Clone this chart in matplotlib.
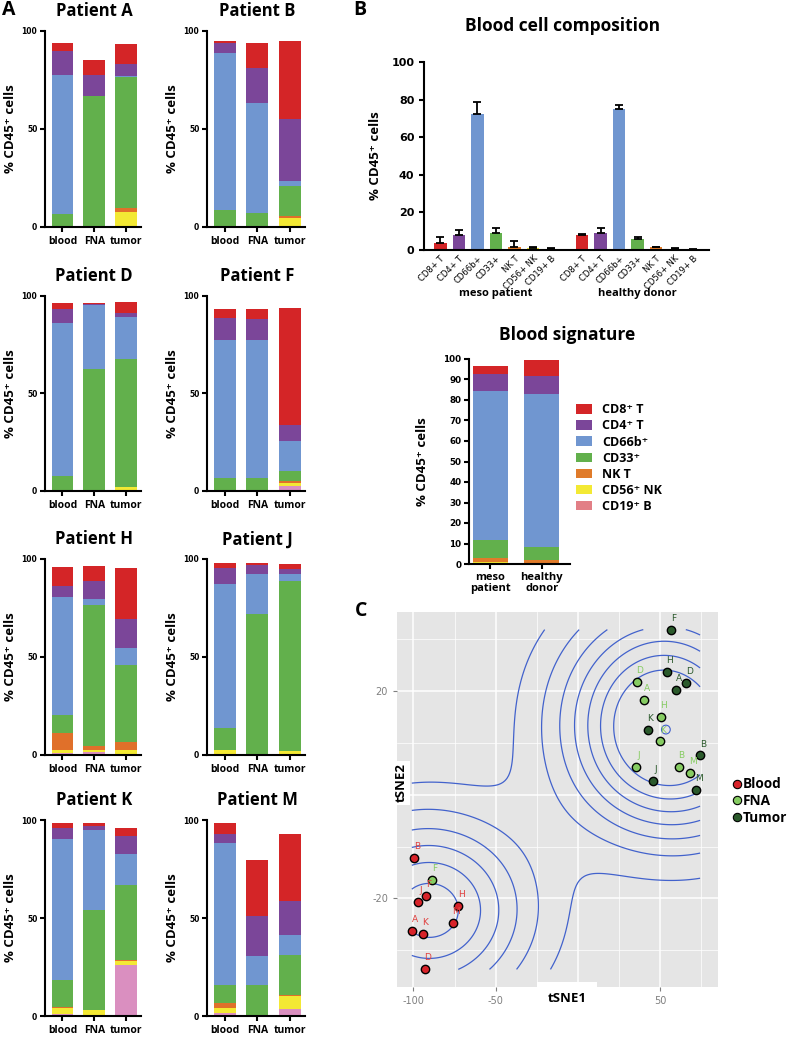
import numpy as np
import matplotlib
matplotlib.use('Agg')
import matplotlib.pyplot as plt
from matplotlib.patches import Patch
from matplotlib.lines import Line2D

# cell populations, stacked from the bottom up
cells = ['CD19⁺ B', 'CD56⁺ NK', 'NK T', 'CD33⁺', 'CD66b⁺', 'CD4⁺ T', 'CD8⁺ T']
cells_plain = ['CD19+ B', 'CD56+ NK', 'NK T', 'CD33+', 'CD66b+', 'CD4+ T', 'CD8+ T']
colors_A = ['#da8fc0', '#f3e934', '#e0702a', '#62b04c', '#7096d0', '#7b4699', '#d42527']
colors_B = ['#e27f86', '#f3e934', '#e07b2a', '#62b04c', '#7096d0', '#7b4699', '#d42527']
samples = ['blood', 'FNA', 'tumor']

# panel A: % of CD45+ cells, rows = blood, FNA, tumor; columns in the order of `cells`
patient_A = [[0, 0, 0, 6.8, 70.8, 12.0, 4.4], [0, 0, 0, 66.6, 0, 10.9, 7.7], [0.5, 7.0, 2.4, 66.7, 0.3, 6.5, 9.8]]
patient_B = [[0, 0, 0, 8.8, 80.0, 4.9, 1.0], [0, 0, 0, 7.1, 56.2, 17.7, 12.7], [0, 4.8, 0.6, 15.5, 2.4, 31.6, 40.0]]
patient_D = [[0, 0, 0, 7.5, 78.9, 6.8, 3.1], [0, 0, 0, 62.5, 33.1, 0.5, 0.5], [0, 1.9, 0.3, 65.3, 21.6, 2.4, 5.3]]
patient_F = [[0, 0, 0, 6.6, 70.7, 11.6, 4.6], [0, 0, 0, 6.8, 70.5, 11.1, 4.8], [2.4, 1.7, 0.8, 5.3, 15.5, 8.0, 60.2]]
patient_H = [[1.2, 1.2, 9.0, 8.9, 60.3, 5.6, 9.9], [1.5, 0.9, 2.0, 71.9, 3.3, 9.0, 8.0], [0.5, 2.2, 3.8, 39.2, 9.0, 14.5, 26.0]]
patient_J = [[0, 2.7, 0, 10.9, 73.5, 8.3, 2.7], [0, 0, 0, 72.1, 20.2, 4.5, 1.0], [0, 2.0, 0, 86.6, 3.9, 2.2, 2.9]]
patient_K = [[1.2, 2.7, 0.5, 14.2, 71.9, 5.4, 2.7], [0.7, 2.4, 0, 51.2, 40.6, 2.2, 1.2], [25.9, 2.4, 0.5, 38.0, 16.0, 9.0, 3.9]]
patient_M = [[1.4, 2.7, 2.5, 9.4, 72.4, 4.6, 5.5], [0, 0, 0, 16.0, 14.7, 20.2, 28.8], [3.6, 6.6, 0.7, 20.3, 10.2, 17.4, 34.0]]

# panel B: blood means (order of `cells`) and upper error
meso_mean = [0.3, 0.8, 1.6, 9.2, 72.6, 8.0, 3.9]
meso_err = [0.8, 1.0, 3.0, 2.7, 6.3, 2.8, 2.8]
healthy_mean = [0.2, 0.5, 1.4, 6.0, 74.8, 9.0, 7.8]
healthy_err = [0.3, 0.3, 0.2, 0.9, 2.2, 2.5, 0.7]

# panel C: tSNE coordinates
blood_x = [-99.6, -92.3, -97.4, -72.7, -75.8, -101.0, -94.4, -93.0]
blood_y = [-12.2, -19.5, -20.6, -21.4, -24.8, -26.3, -26.9, -33.7]
blood_lab = ['B', 'F', 'J', 'H', 'M', 'A', 'K', 'D']
fna_x = [35.8, 40.4, 50.3, 49.9, 35.2, 61.4, 68.1, -88.5]
fna_y = [21.8, 18.4, 15.1, 10.3, 5.3, 5.4, 4.3, -16.4]
fna_lab = ['D', 'A', 'H', 'K', 'J', 'B', 'M', 'F']
tumor_x = [56.4, 54.3, 66.0, 59.8, 42.4, 74.3, 45.8, 71.9]
tumor_y = [31.9, 23.7, 21.6, 20.2, 12.6, 7.6, 2.7, 0.9]
tumor_lab = ['F', 'H', 'D', 'A', 'K', 'B', 'J', 'M']
center_x = [53.5]
center_y = [12.6]

W, H = 787, 1038
fig = plt.figure(figsize=(W / 100, H / 100), dpi=100)
TXT = ['Open Sans', 'DejaVu Sans']


def add_ax(x0, y0, x1, y1):
    return fig.add_axes([x0 / W, 1 - y1 / H, (x1 - x0) / W, (y1 - y0) / H])


def prism_axes(ax, lw=1.5):
    for s in ['top', 'right']:
        ax.spines[s].set_visible(False)
    for s in ['left', 'bottom']:
        ax.spines[s].set_linewidth(lw)
    ax.tick_params(width=lw, length=3.5, color='black')


# ---------- panel A ----------
patients = [('A', patient_A), ('B', patient_B), ('D', patient_D), ('F', patient_F),
            ('H', patient_H), ('J', patient_J), ('K', patient_K), ('M', patient_M)]
cols = [(45, 141), (207, 305)]
rows = [(31, 227), (296, 491), (559, 755), (820, 1016)]
for i, (name, vals) in enumerate(patients):
    r, c = divmod(i, 2)
    ax = add_ax(cols[c][0], rows[r][0], cols[c][1], rows[r][1])
    vals = np.array(vals)
    bottom = np.zeros(3)
    for k in range(len(cells)):
        ax.bar(range(3), vals[:, k], 0.68, bottom=bottom, color=colors_A[k], linewidth=0)
        bottom += vals[:, k]
    ax.set_xlim(-0.55, 2.47)
    ax.set_ylim(0, 100)
    prism_axes(ax)
    ax.set_yticks([0, 50, 100])
    ax.set_yticklabels(['0', '50', '100'], fontsize=5.5, fontweight='bold')
    ax.set_xticks(range(3))
    ax.set_xticklabels(samples, fontsize=7.5, fontweight='bold', family=TXT)
    ax.tick_params(axis='x', pad=3)
    ax.tick_params(axis='y', pad=2)
    ax.set_ylabel('% CD45⁺ cells', fontsize=9.5, fontweight='bold', family=TXT)
    ax.yaxis.set_label_coords(-0.29, 0.5)
    ax.annotate('Patient ' + name, xy=(1, 1), xycoords=('data', 'axes fraction'),
                xytext=(0, 10.5), textcoords='offset points', ha='center', va='baseline',
                fontsize=12, fontweight='bold', family=TXT)

# ---------- panel B: blood cell composition ----------
axb = add_ax(424, 62, 709, 250)
pos_meso = np.arange(7)
pos_healthy = np.arange(7) + 7.65
order = list(range(6, -1, -1))  # CD8 first on the axis
for pos, mean, err in [(pos_meso, meso_mean, meso_err), (pos_healthy, healthy_mean, healthy_err)]:
    m = np.array(mean)[order]
    e = np.array(err)[order]
    axb.bar(pos, m, 0.68, color=[colors_B[k] for k in order], linewidth=0)
    axb.errorbar(pos, m, yerr=[np.zeros(7), e], fmt='none', ecolor='black', elinewidth=1.3, capsize=3, capthick=1.3)
axb.set_xlim(-0.88, 14.5)
axb.set_ylim(0, 100)
prism_axes(axb)
axb.set_yticks(range(0, 101, 20))
axb.set_yticklabels([str(v) for v in range(0, 101, 20)], fontsize=8, fontweight='bold')
axb.set_xticks(np.concatenate([pos_meso, pos_healthy]))
axb.set_xticklabels([cells_plain[k] for k in order] * 2, fontsize=6, rotation=45,
                    ha='right', rotation_mode='anchor')
axb.tick_params(axis='x', length=0, pad=3)
axb.set_ylabel('% CD45⁺ cells', fontsize=9.5, fontweight='bold', family=TXT)
axb.yaxis.set_label_coords(-0.148, 0.5)
for xc, lab in [(3, 'meso patient'), (10.65, 'healthy donor')]:
    axb.text(xc, -0.232, lab, transform=axb.get_xaxis_transform(), ha='center', va='center',
             fontsize=8, fontweight='bold', family=TXT)
fig.text(563 / W, 1 - 26 / H, 'Blood cell composition', ha='center', va='center',
         fontsize=12.5, fontweight='bold', family=TXT)

# ---------- panel B: blood signature ----------
axs = add_ax(469, 359, 570, 564)
bottom = np.zeros(2)
handles = []
for k in range(len(cells)):
    v = np.array([meso_mean[k], healthy_mean[k]])
    axs.bar([0, 1], v, 0.68, bottom=bottom, color=colors_B[k], linewidth=0)
    bottom += v
    handles.append(Patch(facecolor=colors_B[k], edgecolor='none'))
axs.set_xlim(-0.41, 1.55)
axs.set_ylim(0, 100)
prism_axes(axs)
axs.set_yticks(range(0, 101, 10))
axs.set_yticklabels([str(v) for v in range(0, 101, 10)], fontsize=6.3, fontweight='bold')
axs.set_xticks([0, 1])
axs.set_xticklabels(['meso\npatient', 'healthy\ndonor'], fontsize=8, fontweight='bold',
                    family=TXT, linespacing=1.0)
axs.tick_params(axis='x', pad=2.5)
axs.tick_params(axis='y', pad=2)
axs.set_ylabel('% CD45⁺ cells', fontsize=9.5, fontweight='bold', family=TXT)
axs.yaxis.set_label_coords(-0.4, 0.5)
fig.text(567 / W, 1 - 335 / H, 'Blood signature', ha='center', va='center',
         fontsize=12.5, fontweight='bold', family=TXT)
fig.legend(handles[::-1], cells[::-1], loc='upper left', bbox_to_anchor=(565 / W, 1 - 392 / H),
           frameon=False, prop={'family': TXT, 'weight': 'bold', 'size': 9},
           handlelength=1.25, handleheight=0.8, labelspacing=0.25, handletextpad=0.85)

# ---------- panel C: tSNE ----------
axc = add_ax(397, 612, 718, 987)
axc.set_facecolor('#e5e5e5')
for s in axc.spines.values():
    s.set_visible(False)
axc.set_xlim(-110, 85.2)
axc.set_ylim(-37.1, 35.3)
axc.set_xticks([-100, -50, 0, 50])
axc.set_xticklabels(['-100', '-50', '', '50'])
axc.set_yticks([-20, 0, 20])
axc.set_yticklabels(['-20', '', '20'])
axc.set_xticks([-75, -25, 25, 75], minor=True)
axc.set_yticks([-30, -10, 10, 30], minor=True)
axc.grid(which='major', color='white', linewidth=1.1)
axc.grid(which='minor', color='white', linewidth=0.5)
axc.set_axisbelow(True)
axc.tick_params(which='major', colors='#7f7f7f', labelsize=7, length=3, width=0.8)
axc.tick_params(which='minor', length=0)

# 2D kernel density of all samples (MASS::kde2d with bandwidth.nrd)
px = np.array(blood_x + fna_x + tumor_x)
py = np.array(blood_y + fna_y + tumor_y)


def bw_nrd(v):
    q1, q3 = np.percentile(v, [25, 75])
    return 4 * 1.06 * min(np.std(v, ddof=1), (q3 - q1) / 1.34) * len(v) ** -0.2


hx, hy = bw_nrd(px) / 4, bw_nrd(py) / 4
gx = np.linspace(px.min(), px.max(), 150)
gy = np.linspace(py.min(), py.max(), 150)
kx = np.exp(-0.5 * ((gx[:, None] - px[None, :]) / hx) ** 2) / np.sqrt(2 * np.pi)
ky = np.exp(-0.5 * ((gy[:, None] - py[None, :]) / hy) ** 2) / np.sqrt(2 * np.pi)
z = ky @ kx.T / (len(px) * hx * hy)
levels = z.max() * np.arange(0.10, 0.80, 0.11)
axc.contour(gx, gy, z, levels=levels, colors='#4262cc', linewidths=0.9, zorder=2)

groups = [(blood_x, blood_y, blood_lab, '#d8232a', '#e0403f'),
          (fna_x, fna_y, fna_lab, '#86cc62', '#86cc62'),
          (tumor_x, tumor_y, tumor_lab, '#2b5a2c', '#2b5a2c')]
for gxs, gys, labs, fc, tc in groups:
    axc.scatter(gxs, gys, s=36, facecolor=fc, edgecolor='black', linewidth=1.0, zorder=4)
    for x, y, lab in zip(gxs, gys, labs):
        axc.annotate(lab, (x, y), xytext=(2, 5), textcoords='offset points', fontsize=6.5,
                     color=tc, ha='center', va='bottom', zorder=5)
axc.scatter(center_x, center_y, s=40, facecolor='none', edgecolor='#4262cc', linewidth=0.8, zorder=3)

fig.text(567 / W, 1 - 999 / H, 'tSNE1', ha='center', va='center', fontsize=9.5, fontweight='bold',
         family=TXT, bbox=dict(facecolor='white', edgecolor='none', boxstyle='square,pad=0.8'))
fig.text(401 / W, 1 - 783 / H, 'tSNE2', ha='center', va='center', rotation=90, fontsize=9.5,
         fontweight='bold', family=TXT,
         bbox=dict(facecolor='white', edgecolor='none', boxstyle='square,pad=0.2'))

leg_handles = [Line2D([], [], marker='o', ls='', markerfacecolor=g[3], markeredgecolor='black',
                      markeredgewidth=0.8, markersize=6) for g in groups]
fig.legend(leg_handles, ['Blood', 'FNA', 'Tumor'], loc='center left', bbox_to_anchor=(733 / W, 1 - 801 / H),
           frameon=False, prop={'family': TXT, 'weight': 'bold', 'size': 9.8},
           handlelength=0.6, handletextpad=0.1, labelspacing=0.2, borderpad=0, borderaxespad=0)

# panel letters
for x, y, s in [(2, 0, 'A'), (353, 0, 'B'), (355, 601, 'C')]:
    fig.text(x / W, 1 - y / H, s, ha='left', va='top', fontsize=14, fontweight='bold', family=TXT)

fig.savefig('out.png', dpi=100)
